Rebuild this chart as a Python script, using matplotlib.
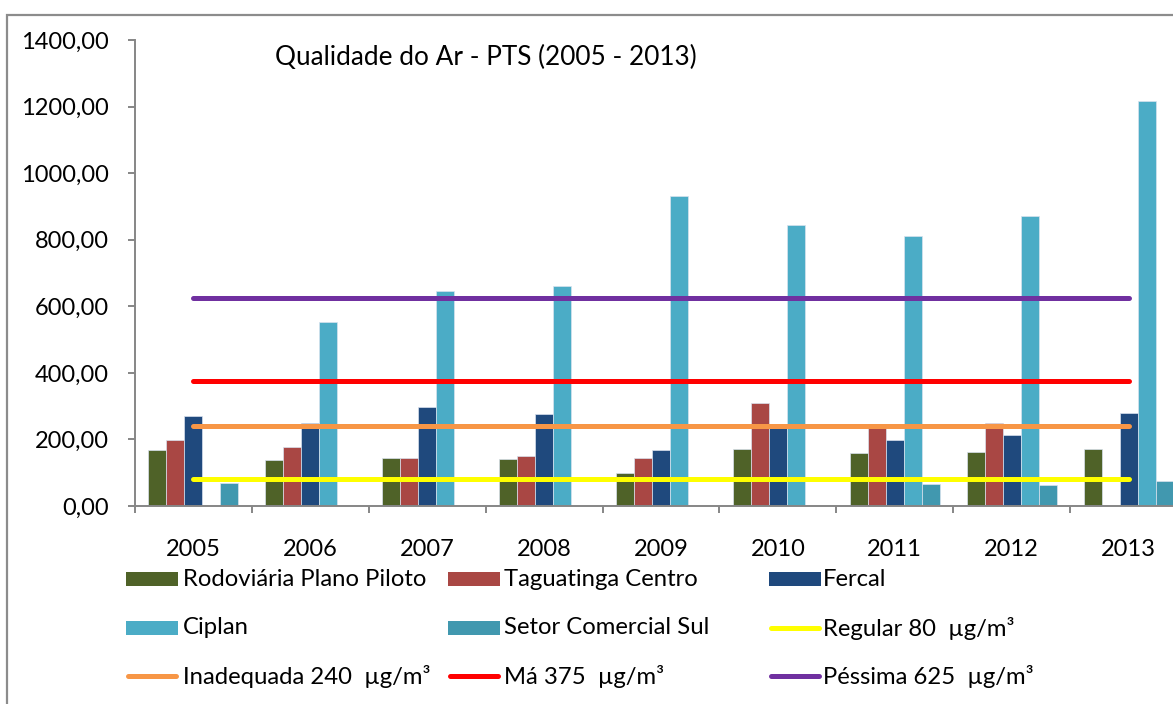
import numpy as np
import matplotlib
matplotlib.use("Agg")
import matplotlib.pyplot as plt
from matplotlib.patches import Rectangle
from matplotlib.lines import Line2D

plt.rcParams['font.family'] = ['Lato', 'DejaVu Sans']

years = ['2005', '2006', '2007', '2008', '2009', '2010', '2011', '2012', '2013']
rodoviaria = [167, 138, 145, 140, 100, 170, 160, 162, 172]
taguatinga = [198, 176, 145, 150, 145, 309, 246, 248, np.nan]
fercal = [270, 249, 296, 275, 167, 235, 198, 212, 278]
ciplan = [np.nan, 553, 645, 661, 932, 844, 811, 870, 1217]
setor = [69, np.nan, np.nan, np.nan, np.nan, np.nan, 66, 64, 76]
regular = [80] * 9
inadequada = [240] * 9
ma = [375] * 9
pessima = [625] * 9

bar_series = [
    ("Rodoviária Plano Piloto", rodoviaria, "#4F6228"),
    ("Taguatinga Centro", taguatinga, "#A94744"),
    ("Fercal", fercal, "#1F497D"),
    ("Ciplan", ciplan, "#4BACC6"),
    ("Setor Comercial Sul", setor, "#4198AF"),
]
line_series = [
    ("Regular 80  µg/m³", regular, "#FFFF00"),
    ("Inadequada 240  µg/m³", inadequada, "#F79646"),
    ("Má 375  µg/m³", ma, "#FF0000"),
    ("Péssima 625  µg/m³", pessima, "#7030A0"),
]

W, H = 1173, 704
fig = plt.figure(figsize=(W / 100, H / 100), dpi=100)
fig.patch.set_facecolor('white')

def fx(px):
    return px / W

def fy(py):
    return 1 - py / H

ax = fig.add_axes([fx(135), fy(506), fx(1187) - fx(135), (506 - 40) / H])
x = np.arange(len(years))
bw = 0.154
for i, (name, vals, col) in enumerate(bar_series):
    ax.bar(x + (i - 2) * bw, vals, width=bw, color=col, edgecolor='#d9e2ee',
           linewidth=0.5, zorder=2)
for name, vals, col in line_series:
    ax.plot(x, vals, color=col, linewidth=3.6, solid_capstyle='round', zorder=3)

ax.set_xlim(-0.5, len(years) - 0.5)
ax.set_ylim(0, 1400)
ax.set_yticks(np.arange(0, 1401, 200))
ax.set_yticklabels([f"{v:.2f}".replace('.', ',') for v in np.arange(0, 1401, 200)])
ax.set_xticks(x)
ax.set_xticklabels(years)
ax.set_xticks(np.arange(-0.5, len(years), 1.0), minor=True)
ax.tick_params(axis='x', which='major', length=0, pad=24, labelsize=17)
ax.tick_params(axis='x', which='minor', length=5, width=1.4, color='#868686', direction='out')
ax.tick_params(axis='y', which='major', length=5, width=1.4, color='#868686', pad=14, labelsize=17)
for s in ['top', 'right']:
    ax.spines[s].set_visible(False)
for s in ['left', 'bottom']:
    ax.spines[s].set_color('#868686')
    ax.spines[s].set_linewidth(1.4)

ax.text(fx(275), fy(57), "Qualidade do Ar - PTS (2005 - 2013)", transform=fig.transFigure,
        fontsize=18.8, va='center', ha='left')

# border of chart area
fig.add_artist(Rectangle((fx(7), -0.2), 2.0, fy(15) + 0.2, transform=fig.transFigure,
                         fill=False, edgecolor='#8c8c8c', linewidth=1.6))

# legend (row-wise, 3 columns)
entries = [(n, c, 'bar') for n, v, c in bar_series] + [(n, c, 'line') for n, v, c in line_series]
col_x = [(126, 178, 183), (448, 500, 504), (769, 821, 823)]
row_y = [579, 628, 676]
for k, (name, col, kind) in enumerate(entries):
    r, c = divmod(k, 3)
    x0, x1, tx = col_x[c]
    yc = row_y[r]
    if kind == 'bar':
        fig.add_artist(Rectangle((fx(x0), fy(yc + 7)), fx(x1) - fx(x0), 14 / H,
                                 transform=fig.transFigure, facecolor=col, edgecolor='none'))
    else:
        fig.add_artist(Line2D([fx(x0 + 2), fx(x1 - 2)], [fy(yc), fy(yc)], transform=fig.transFigure,
                              color=col, linewidth=3.6, solid_capstyle='round'))
    fig.text(fx(tx), fy(yc), name, fontsize=17.2, va='center', ha='left')

fig.savefig('out.png', dpi=100)
